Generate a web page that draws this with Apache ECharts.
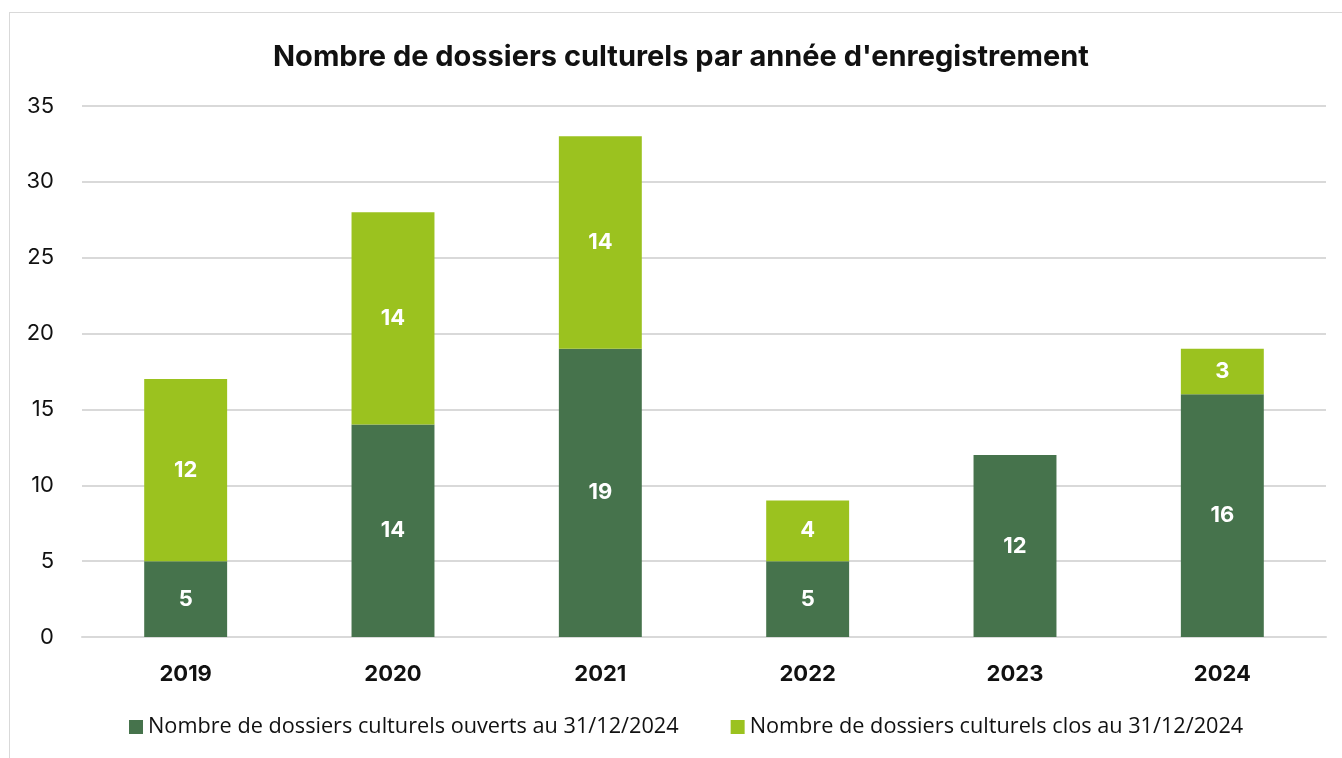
<!DOCTYPE html>
<html>
<head>
<meta charset="utf-8">
<script src="https://cdn.jsdelivr.net/npm/echarts@6/dist/echarts.min.js"></script>
<style>
  html, body { margin: 0; padding: 0; background: #fff; }
  #frame { position: absolute; left: 9px; top: 12px; width: 1340px; height: 760px;
           border-left: 1px solid #d9d9d9; border-top: 1px solid #d9d9d9; }
  #chart { position: absolute; left: 0; top: 0; width: 1342px; height: 758px; }
</style>
</head>
<body>
<div id="frame"></div>
<div id="chart"></div>
<script>
// Dossiers culturels par année d'enregistrement
const years = ['2019', '2020', '2021', '2022', '2023', '2024'];
const ouverts = [5, 14, 19, 5, 12, 16];
const clos = [12, 14, 14, 4, null, 3];
const yTicks = [0, 5, 10, 15, 20, 25, 30, 35];

const darkGreen = '#46734c';
const lightGreen = '#9bc21f';

const myChart = echarts.init(document.getElementById('chart'));

const barLabel = {
    show: true,
    position: 'inside',
    color: '#fff',
    fontWeight: 'bold',
    fontSize: 22,
    fontFamily: 'Inter, sans-serif'
};

const option = {
    animation: false,
    title: {
        text: "Nombre de dossiers culturels par année d'enregistrement",
        left: 268,
        top: 38,
        textStyle: {
            fontFamily: 'Inter, sans-serif',
            fontWeight: 'bold',
            fontSize: 29,
            color: '#111'
        }
    },
    legend: {
        bottom: 15,
        left: 124,
        itemWidth: 14,
        itemHeight: 14,
        itemGap: 52,
        icon: 'rect',
        textStyle: {
            fontFamily: '"Open Sans", sans-serif',
            fontSize: 21.7,
            color: '#111'
        }
    },
    grid: {
        left: 82,
        right: 16,
        top: 106,
        bottom: 121,
        containLabel: false
    },
    xAxis: {
        type: 'category',
        data: years,
        axisLine: { lineStyle: { color: '#d9d9d9', width: 2 } },
        axisTick: { show: false },
        axisLabel: {
            margin: 26,
            fontFamily: 'Inter, sans-serif',
            fontWeight: 'bold',
            fontSize: 22,
            color: '#111'
        }
    },
    yAxis: {
        type: 'value',
        min: yTicks[0],
        max: yTicks[yTicks.length - 1],
        interval: 5,
        axisLine: { show: false },
        axisTick: { show: false },
        axisLabel: {
            margin: 28,
            fontFamily: 'Inter, sans-serif',
            fontSize: 22,
            color: '#111'
        },
        splitLine: { lineStyle: { color: '#d9d9d9', width: 2 } }
    },
    series: [
        {
            name: 'Nombre de dossiers culturels ouverts au 31/12/2024',
            type: 'bar',
            stack: 'total',
            barWidth: '40%',
            itemStyle: { color: darkGreen },
            label: barLabel,
            data: ouverts
        },
        {
            name: 'Nombre de dossiers culturels clos au 31/12/2024',
            type: 'bar',
            stack: 'total',
            barWidth: '40%',
            itemStyle: { color: lightGreen },
            label: barLabel,
            data: clos
        }
    ]
};

myChart.setOption(option);
window.addEventListener('resize', () => myChart.resize());
</script>
</body>
</html>
